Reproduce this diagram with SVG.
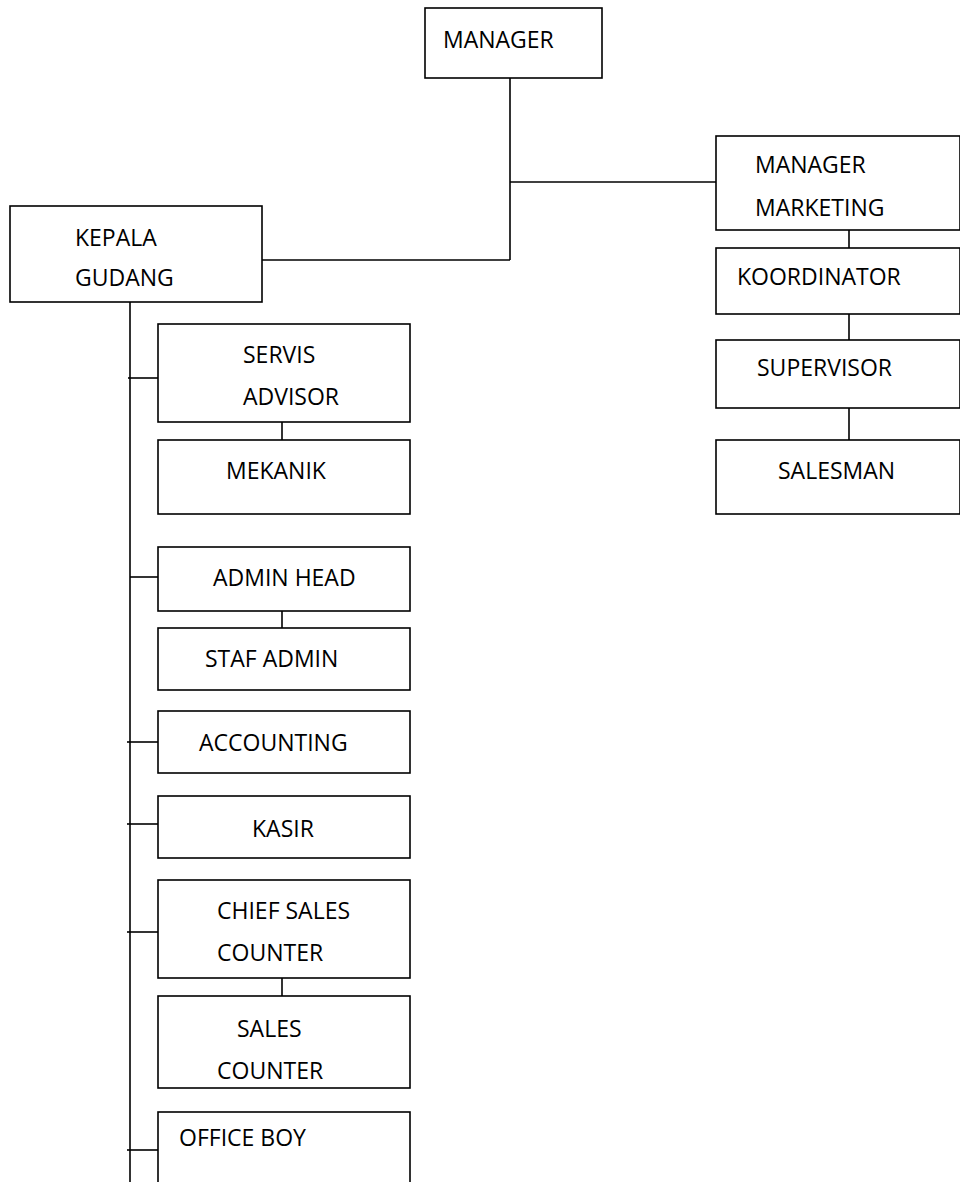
<svg xmlns="http://www.w3.org/2000/svg" width="960" height="1182" viewBox="0 0 960 1182">
<style>
rect{fill:#fff;stroke:#000;stroke-width:1.6}
line{stroke:#000;stroke-width:1.6}
text{font-family:"Open Sans","Liberation Sans",sans-serif;font-size:23px;fill:#000}
</style>
<rect x="0" y="0" width="960" height="1182" style="stroke:none"/>
<g id="connectors">
<line x1="510" y1="78" x2="510" y2="260"/>
<line x1="510" y1="182" x2="716" y2="182"/>
<line x1="262" y1="260" x2="510" y2="260"/>
<line x1="849" y1="230" x2="849" y2="248"/>
<line x1="849" y1="314" x2="849" y2="340"/>
<line x1="849" y1="408" x2="849" y2="440"/>
<line x1="130" y1="302" x2="130" y2="1182"/>
<line x1="128" y1="378" x2="158" y2="378"/>
<line x1="282" y1="422" x2="282" y2="440"/>
<line x1="130" y1="577" x2="158" y2="577"/>
<line x1="282" y1="611" x2="282" y2="628"/>
<line x1="127" y1="742" x2="158" y2="742"/>
<line x1="127" y1="824" x2="158" y2="824"/>
<line x1="127" y1="932" x2="158" y2="932"/>
<line x1="282" y1="978" x2="282" y2="996"/>
<line x1="127" y1="1150" x2="158" y2="1150"/>
</g>
<g id="manager"><rect x="425" y="8" width="177" height="70"/><text x="443" y="48">MANAGER</text></g>
<g id="manager-marketing"><rect x="716" y="136" width="244" height="94"/><text x="755" y="173">MANAGER</text><text x="755" y="216">MARKETING</text></g>
<g id="koordinator"><rect x="716" y="248" width="244" height="66"/><text x="737" y="285">KOORDINATOR</text></g>
<g id="supervisor"><rect x="716" y="340" width="244" height="68"/><text x="757" y="376">SUPERVISOR</text></g>
<g id="salesman"><rect x="716" y="440" width="244" height="74"/><text x="778" y="479">SALESMAN</text></g>
<g id="kepala-gudang"><rect x="10" y="206" width="252" height="96"/><text x="75" y="246">KEPALA</text><text x="75" y="286">GUDANG</text></g>
<g id="servis-advisor"><rect x="158" y="324" width="252" height="98"/><text x="243" y="363">SERVIS</text><text x="243" y="405">ADVISOR</text></g>
<g id="mekanik"><rect x="158" y="440" width="252" height="74"/><text x="226" y="479">MEKANIK</text></g>
<g id="admin-head"><rect x="158" y="547" width="252" height="64"/><text x="213" y="586">ADMIN HEAD</text></g>
<g id="staf-admin"><rect x="158" y="628" width="252" height="62"/><text x="205" y="667">STAF ADMIN</text></g>
<g id="accounting"><rect x="158" y="711" width="252" height="62"/><text x="199" y="751">ACCOUNTING</text></g>
<g id="kasir"><rect x="158" y="796" width="252" height="62"/><text x="252" y="837">KASIR</text></g>
<g id="chief-sales-counter"><rect x="158" y="880" width="252" height="98"/><text x="217" y="919">CHIEF SALES</text><text x="217" y="961">COUNTER</text></g>
<g id="sales-counter"><rect x="158" y="996" width="252" height="92"/><text x="237" y="1037">SALES</text><text x="217" y="1079">COUNTER</text></g>
<g id="office-boy"><rect x="158" y="1112" width="252" height="80"/><text x="179" y="1146">OFFICE BOY</text></g>
</svg>
